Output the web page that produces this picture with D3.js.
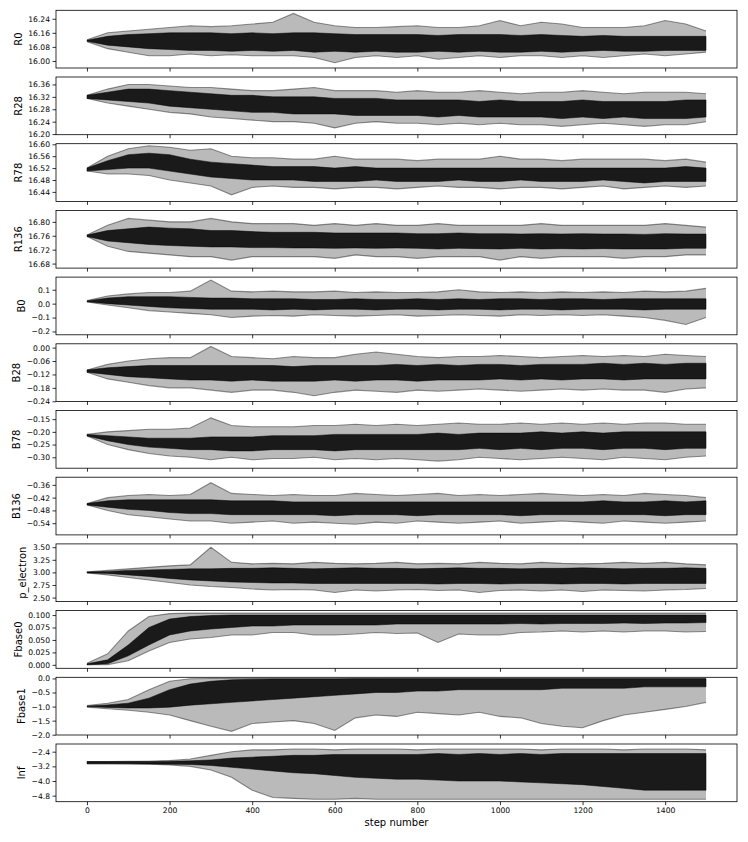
<!DOCTYPE html>
<html><head><meta charset="utf-8">
<script src="https://cdn.jsdelivr.net/npm/d3@7"></script>
<style>
body{margin:0;background:#fff}
svg{display:block}
text{font-family:"DejaVu Sans",sans-serif}
</style>
</head><body>
<svg id="chart" width="748" height="842"></svg>
<script>
// ---------- data ----------
const paramNames = ["R0","R28","R78","R136","B0","B28","B78","B136","p_electron","Fbase0","Fbase1","lnf"];
const steps = [0,50,100,150,200,250,300,350,400,450,500,550,600,650,700,750,800,850,900,950,1000,1050,1100,1150,1200,1250,1300,1350,1400,1450,1499];
const xTickValues = [0,200,400,600,800,1000,1200,1400];
const xLabel = "step number";

const yTickValues = [
  [16.00,16.08,16.16,16.24],
  [16.20,16.24,16.28,16.32,16.36],
  [16.44,16.48,16.52,16.56,16.60],
  [16.68,16.72,16.76,16.80],
  [-0.2,-0.1,0.0,0.1],
  [-0.24,-0.18,-0.12,-0.06,0.00],
  [-0.30,-0.25,-0.20,-0.15],
  [-0.54,-0.48,-0.42,-0.36],
  [2.50,2.75,3.00,3.25,3.50],
  [0.000,0.025,0.050,0.075,0.100],
  [-2.0,-1.5,-1.0,-0.5,0.0],
  [-4.8,-4.0,-3.2,-2.4]
];
const yTickLabels = [
  ["16.00","16.08","16.16","16.24"],
  ["16.20","16.24","16.28","16.32","16.36"],
  ["16.44","16.48","16.52","16.56","16.60"],
  ["16.68","16.72","16.76","16.80"],
  ["\u22120.2","\u22120.1","0.0","0.1"],
  ["\u22120.24","\u22120.18","\u22120.12","\u22120.06","0.00"],
  ["\u22120.30","\u22120.25","\u22120.20","\u22120.15"],
  ["\u22120.54","\u22120.48","\u22120.42","\u22120.36"],
  ["2.50","2.75","3.00","3.25","3.50"],
  ["0.000","0.025","0.050","0.075","0.100"],
  ["\u22122.0","\u22121.5","\u22121.0","\u22120.5","0.0"],
  ["\u22124.8","\u22124.0","\u22123.2","\u22122.4"]
];
const yDomains = [
  [15.96,16.288],[16.198,16.384],[16.408,16.602],[16.667,16.833],
  [-0.224,0.191],[-0.241,0.017],[-0.343,-0.116],[-0.595,-0.324],
  [2.42,3.566],[-0.007,0.109],[-2.01,0.04],[-5.13,-1.98]
];

// dense band (core) and full spread (outer) of the walkers, read at each step
const R0_coreHi = [16.118,16.14,16.15,16.155,16.16,16.16,16.16,16.155,16.16,16.155,16.16,16.16,16.155,16.15,16.15,16.15,16.15,16.145,16.15,16.15,16.15,16.145,16.15,16.145,16.14,16.145,16.14,16.14,16.14,16.14,16.14];
const R0_coreLo = [16.112,16.09,16.08,16.07,16.065,16.06,16.06,16.055,16.06,16.055,16.06,16.05,16.055,16.05,16.055,16.05,16.05,16.055,16.05,16.055,16.05,16.05,16.055,16.05,16.055,16.06,16.055,16.055,16.06,16.06,16.06];
const R0_outerHi = [16.12,16.16,16.17,16.18,16.19,16.2,16.195,16.2,16.21,16.22,16.27,16.22,16.2,16.19,16.19,16.195,16.2,16.19,16.19,16.2,16.23,16.2,16.22,16.21,16.19,16.19,16.19,16.2,16.23,16.21,16.17];
const R0_outerLo = [16.11,16.07,16.05,16.03,16.03,16.04,16.03,16.035,16.03,16.03,16.03,16.02,15.99,16.02,16.03,16.02,16.03,16.01,16.02,16.03,16.02,16.03,16.03,16.02,16.03,16.02,16.03,16.04,16.03,16.04,16.05];

const R28_coreHi = [16.325,16.335,16.345,16.345,16.34,16.335,16.33,16.325,16.325,16.32,16.32,16.32,16.315,16.315,16.315,16.31,16.31,16.31,16.31,16.305,16.31,16.305,16.305,16.305,16.31,16.305,16.305,16.305,16.305,16.31,16.31];
const R28_coreLo = [16.315,16.31,16.305,16.3,16.29,16.285,16.28,16.275,16.27,16.27,16.265,16.265,16.265,16.26,16.26,16.26,16.26,16.255,16.26,16.255,16.255,16.255,16.255,16.25,16.255,16.25,16.255,16.25,16.25,16.25,16.255];
const R28_outerHi = [16.325,16.345,16.36,16.36,16.355,16.35,16.35,16.345,16.34,16.34,16.345,16.35,16.34,16.34,16.34,16.335,16.34,16.335,16.335,16.34,16.335,16.33,16.335,16.335,16.34,16.335,16.33,16.335,16.335,16.335,16.33];
const R28_outerLo = [16.315,16.3,16.29,16.28,16.27,16.265,16.255,16.25,16.245,16.24,16.24,16.235,16.22,16.235,16.24,16.235,16.235,16.23,16.235,16.23,16.235,16.23,16.23,16.225,16.23,16.235,16.23,16.225,16.23,16.23,16.24];

const R78_coreHi = [16.52,16.545,16.565,16.57,16.565,16.55,16.54,16.535,16.53,16.525,16.525,16.525,16.52,16.525,16.52,16.52,16.52,16.52,16.52,16.52,16.52,16.52,16.52,16.52,16.52,16.52,16.52,16.52,16.52,16.525,16.52];
const R78_coreLo = [16.51,16.515,16.52,16.52,16.51,16.5,16.49,16.485,16.48,16.48,16.48,16.475,16.475,16.475,16.48,16.475,16.475,16.475,16.48,16.475,16.475,16.48,16.475,16.475,16.475,16.48,16.475,16.47,16.475,16.475,16.475];
const R78_outerHi = [16.52,16.56,16.585,16.595,16.59,16.58,16.585,16.56,16.555,16.555,16.55,16.55,16.56,16.55,16.55,16.55,16.545,16.55,16.55,16.55,16.56,16.55,16.55,16.545,16.55,16.55,16.55,16.55,16.545,16.55,16.54];
const R78_outerLo = [16.51,16.5,16.5,16.495,16.48,16.47,16.46,16.43,16.455,16.46,16.455,16.455,16.45,16.455,16.455,16.45,16.455,16.46,16.455,16.455,16.45,16.455,16.455,16.45,16.455,16.46,16.45,16.455,16.46,16.455,16.46];

const R136_coreHi = [16.762,16.775,16.78,16.785,16.782,16.78,16.775,16.775,16.772,16.77,16.77,16.77,16.768,16.768,16.768,16.768,16.766,16.766,16.768,16.766,16.766,16.765,16.766,16.765,16.766,16.765,16.765,16.764,16.766,16.765,16.765];
const R136_coreLo = [16.758,16.745,16.74,16.735,16.732,16.73,16.728,16.728,16.726,16.726,16.725,16.725,16.724,16.725,16.724,16.725,16.724,16.722,16.724,16.723,16.722,16.724,16.722,16.723,16.722,16.723,16.722,16.722,16.722,16.724,16.724];
const R136_outerHi = [16.762,16.79,16.81,16.805,16.8,16.8,16.81,16.8,16.795,16.795,16.795,16.79,16.795,16.79,16.795,16.79,16.79,16.795,16.79,16.79,16.79,16.79,16.795,16.79,16.79,16.79,16.79,16.79,16.795,16.79,16.785];
const R136_outerLo = [16.758,16.73,16.715,16.71,16.705,16.7,16.7,16.69,16.7,16.7,16.7,16.7,16.695,16.705,16.7,16.7,16.695,16.7,16.7,16.7,16.69,16.7,16.695,16.7,16.7,16.7,16.695,16.7,16.7,16.705,16.705];

const B0_coreHi = [0.02,0.04,0.05,0.05,0.05,0.045,0.04,0.04,0.035,0.035,0.035,0.03,0.03,0.035,0.03,0.03,0.035,0.03,0.035,0.03,0.035,0.035,0.03,0.035,0.035,0.03,0.035,0.035,0.035,0.035,0.035];
const B0_coreLo = [0.014,0.0,-0.01,-0.02,-0.03,-0.035,-0.04,-0.04,-0.04,-0.045,-0.04,-0.045,-0.04,-0.04,-0.045,-0.04,-0.04,-0.045,-0.04,-0.04,-0.045,-0.04,-0.04,-0.045,-0.04,-0.04,-0.04,-0.045,-0.04,-0.04,-0.04];
const B0_outerHi = [0.022,0.055,0.07,0.08,0.08,0.09,0.17,0.09,0.085,0.09,0.085,0.085,0.09,0.08,0.085,0.08,0.08,0.085,0.1,0.085,0.08,0.085,0.08,0.085,0.08,0.085,0.08,0.09,0.085,0.09,0.11];
const B0_outerLo = [0.012,-0.01,-0.03,-0.05,-0.06,-0.07,-0.08,-0.1,-0.09,-0.085,-0.09,-0.08,-0.085,-0.09,-0.085,-0.08,-0.09,-0.085,-0.08,-0.085,-0.09,-0.08,-0.085,-0.08,-0.085,-0.08,-0.09,-0.1,-0.12,-0.15,-0.1];

const B28_coreHi = [-0.1,-0.09,-0.085,-0.08,-0.08,-0.08,-0.08,-0.08,-0.08,-0.08,-0.085,-0.08,-0.08,-0.08,-0.08,-0.075,-0.08,-0.075,-0.08,-0.075,-0.075,-0.08,-0.075,-0.075,-0.075,-0.07,-0.075,-0.07,-0.075,-0.07,-0.07];
const B28_coreLo = [-0.11,-0.12,-0.13,-0.135,-0.14,-0.145,-0.145,-0.15,-0.145,-0.15,-0.15,-0.15,-0.145,-0.15,-0.145,-0.145,-0.15,-0.145,-0.145,-0.145,-0.14,-0.145,-0.14,-0.145,-0.14,-0.14,-0.145,-0.14,-0.14,-0.14,-0.14];
const B28_outerHi = [-0.1,-0.075,-0.06,-0.05,-0.045,-0.045,0.005,-0.04,-0.045,-0.05,-0.04,-0.045,-0.045,-0.03,-0.02,-0.03,-0.04,-0.045,-0.04,-0.04,-0.035,-0.04,-0.045,-0.04,-0.035,-0.04,-0.035,-0.04,-0.03,-0.035,-0.04];
const B28_outerLo = [-0.11,-0.14,-0.155,-0.17,-0.18,-0.18,-0.19,-0.2,-0.19,-0.19,-0.2,-0.215,-0.2,-0.19,-0.195,-0.2,-0.19,-0.195,-0.19,-0.185,-0.19,-0.195,-0.19,-0.185,-0.19,-0.185,-0.19,-0.19,-0.2,-0.185,-0.18];

const B78_coreHi = [-0.21,-0.215,-0.22,-0.225,-0.225,-0.225,-0.22,-0.22,-0.22,-0.215,-0.215,-0.215,-0.21,-0.21,-0.21,-0.21,-0.21,-0.205,-0.21,-0.205,-0.205,-0.205,-0.2,-0.205,-0.2,-0.205,-0.2,-0.2,-0.2,-0.2,-0.2];
const B78_coreLo = [-0.216,-0.235,-0.25,-0.26,-0.265,-0.27,-0.27,-0.275,-0.275,-0.27,-0.27,-0.27,-0.275,-0.27,-0.27,-0.27,-0.27,-0.27,-0.27,-0.265,-0.27,-0.265,-0.27,-0.265,-0.265,-0.27,-0.265,-0.265,-0.27,-0.265,-0.265];
const B78_outerHi = [-0.21,-0.2,-0.195,-0.19,-0.19,-0.185,-0.145,-0.175,-0.18,-0.18,-0.18,-0.175,-0.175,-0.17,-0.175,-0.17,-0.175,-0.17,-0.165,-0.17,-0.17,-0.165,-0.17,-0.165,-0.17,-0.165,-0.17,-0.165,-0.165,-0.17,-0.17];
const B78_outerLo = [-0.216,-0.25,-0.27,-0.285,-0.295,-0.3,-0.31,-0.3,-0.31,-0.305,-0.305,-0.3,-0.31,-0.305,-0.31,-0.305,-0.31,-0.315,-0.31,-0.3,-0.305,-0.31,-0.305,-0.3,-0.305,-0.31,-0.3,-0.305,-0.31,-0.3,-0.295];

const B136_coreHi = [-0.448,-0.435,-0.43,-0.43,-0.43,-0.43,-0.43,-0.435,-0.435,-0.435,-0.44,-0.44,-0.44,-0.44,-0.44,-0.44,-0.44,-0.44,-0.44,-0.44,-0.44,-0.44,-0.44,-0.44,-0.44,-0.435,-0.44,-0.44,-0.435,-0.44,-0.435];
const B136_coreLo = [-0.454,-0.465,-0.475,-0.48,-0.49,-0.495,-0.495,-0.5,-0.5,-0.5,-0.5,-0.5,-0.505,-0.5,-0.5,-0.5,-0.505,-0.5,-0.5,-0.5,-0.5,-0.505,-0.5,-0.5,-0.5,-0.5,-0.5,-0.5,-0.505,-0.5,-0.5];
const B136_outerHi = [-0.448,-0.42,-0.41,-0.405,-0.41,-0.405,-0.35,-0.4,-0.405,-0.41,-0.405,-0.41,-0.41,-0.4,-0.405,-0.41,-0.405,-0.4,-0.41,-0.405,-0.41,-0.405,-0.4,-0.405,-0.41,-0.405,-0.41,-0.4,-0.405,-0.41,-0.42];
const B136_outerLo = [-0.454,-0.48,-0.5,-0.51,-0.52,-0.53,-0.53,-0.54,-0.535,-0.53,-0.54,-0.535,-0.54,-0.545,-0.535,-0.54,-0.53,-0.535,-0.54,-0.535,-0.53,-0.54,-0.535,-0.53,-0.535,-0.54,-0.53,-0.535,-0.54,-0.535,-0.53];

const pe_coreHi = [3.01,3.02,3.04,3.05,3.06,3.07,3.07,3.08,3.08,3.09,3.08,3.07,3.08,3.09,3.08,3.08,3.07,3.08,3.09,3.08,3.08,3.07,3.08,3.08,3.09,3.08,3.07,3.08,3.08,3.09,3.08];
const pe_coreLo = [2.99,2.98,2.95,2.92,2.88,2.85,2.83,2.81,2.8,2.79,2.79,2.78,2.78,2.78,2.78,2.78,2.78,2.77,2.78,2.78,2.77,2.78,2.78,2.77,2.78,2.78,2.77,2.78,2.78,2.78,2.78];
const pe_outerHi = [3.01,3.04,3.07,3.1,3.13,3.15,3.5,3.2,3.17,3.18,3.17,3.2,3.18,3.17,3.18,3.2,3.17,3.18,3.17,3.2,3.18,3.17,3.2,3.18,3.17,3.18,3.2,3.18,3.2,3.17,3.15];
const pe_outerLo = [2.99,2.95,2.9,2.85,2.8,2.75,2.72,2.7,2.67,2.65,2.66,2.65,2.6,2.65,2.63,2.65,2.66,2.64,2.65,2.6,2.64,2.65,2.63,2.65,2.62,2.65,2.64,2.63,2.65,2.66,2.68];

const Fb0_coreHi = [0.002,0.01,0.04,0.075,0.092,0.097,0.099,0.1,0.1,0.1,0.1,0.1,0.1,0.1,0.1,0.1,0.1,0.1,0.1,0.1,0.1,0.1,0.1,0.1,0.1,0.1,0.1,0.1,0.1,0.1,0.1];
const Fb0_coreLo = [0.0,0.002,0.018,0.04,0.06,0.068,0.072,0.075,0.078,0.078,0.08,0.08,0.08,0.08,0.08,0.082,0.082,0.082,0.082,0.082,0.082,0.083,0.082,0.083,0.083,0.083,0.084,0.083,0.084,0.084,0.085];
const Fb0_outerHi = [0.003,0.022,0.068,0.097,0.103,0.104,0.104,0.104,0.104,0.104,0.104,0.104,0.104,0.104,0.104,0.104,0.104,0.104,0.104,0.104,0.104,0.104,0.104,0.104,0.104,0.104,0.104,0.104,0.104,0.104,0.104];
const Fb0_outerLo = [0.0,0.0,0.008,0.028,0.045,0.052,0.055,0.06,0.06,0.065,0.065,0.06,0.06,0.062,0.065,0.063,0.064,0.045,0.062,0.06,0.06,0.065,0.066,0.068,0.066,0.068,0.066,0.068,0.068,0.066,0.067];

const Fb1_coreHi = [-0.98,-0.94,-0.88,-0.7,-0.4,-0.2,-0.1,-0.05,-0.03,-0.02,-0.02,-0.02,-0.02,-0.01,-0.01,-0.01,-0.01,-0.01,-0.01,-0.01,-0.01,-0.01,-0.01,-0.01,-0.01,-0.01,-0.01,-0.01,-0.01,-0.01,-0.01];
const Fb1_coreLo = [-1.0,-1.03,-1.05,-1.05,-1.02,-0.95,-0.9,-0.85,-0.8,-0.75,-0.7,-0.65,-0.6,-0.55,-0.5,-0.5,-0.45,-0.45,-0.4,-0.4,-0.4,-0.4,-0.4,-0.35,-0.35,-0.35,-0.35,-0.3,-0.3,-0.3,-0.3];
const Fb1_outerHi = [-0.96,-0.88,-0.75,-0.4,-0.1,-0.01,0.0,0.0,0.0,0.0,0.0,0.0,0.0,0.0,0.0,0.0,0.0,0.0,0.0,0.0,0.0,0.0,0.0,0.0,0.0,0.0,0.0,0.0,0.0,0.0,0.0];
const Fb1_outerLo = [-1.02,-1.08,-1.13,-1.2,-1.3,-1.5,-1.7,-1.88,-1.6,-1.55,-1.5,-1.6,-1.85,-1.4,-1.3,-1.35,-1.2,-1.25,-1.3,-1.2,-1.35,-1.4,-1.6,-1.7,-1.75,-1.5,-1.3,-1.2,-1.1,-1.0,-0.85];

const lnf_coreHi = [-2.94,-2.94,-2.94,-2.93,-2.92,-2.9,-2.85,-2.75,-2.7,-2.65,-2.6,-2.6,-2.55,-2.55,-2.55,-2.55,-2.55,-2.5,-2.55,-2.5,-2.55,-2.5,-2.55,-2.5,-2.5,-2.5,-2.5,-2.5,-2.5,-2.5,-2.5];
const lnf_coreLo = [-3.06,-3.06,-3.06,-3.07,-3.08,-3.1,-3.15,-3.25,-3.35,-3.45,-3.55,-3.6,-3.7,-3.8,-3.85,-3.9,-3.9,-3.95,-4.0,-4.0,-4.0,-4.05,-4.1,-4.15,-4.2,-4.3,-4.4,-4.5,-4.5,-4.5,-4.5];
const lnf_outerHi = [-2.94,-2.94,-2.93,-2.92,-2.88,-2.8,-2.6,-2.4,-2.3,-2.3,-2.25,-2.25,-2.3,-2.25,-2.25,-2.25,-2.3,-2.25,-2.25,-2.25,-2.25,-2.25,-2.3,-2.25,-2.25,-2.25,-2.3,-2.25,-2.25,-2.25,-2.3];
const lnf_outerLo = [-3.06,-3.06,-3.07,-3.08,-3.12,-3.2,-3.4,-3.8,-4.5,-4.9,-4.95,-5.0,-5.0,-4.95,-5.0,-5.0,-5.0,-5.0,-5.0,-5.0,-5.0,-5.0,-5.0,-5.0,-5.0,-5.0,-5.0,-5.0,-5.0,-5.0,-5.0];

const coreHiAll  = [R0_coreHi,R28_coreHi,R78_coreHi,R136_coreHi,B0_coreHi,B28_coreHi,B78_coreHi,B136_coreHi,pe_coreHi,Fb0_coreHi,Fb1_coreHi,lnf_coreHi];
const coreLoAll  = [R0_coreLo,R28_coreLo,R78_coreLo,R136_coreLo,B0_coreLo,B28_coreLo,B78_coreLo,B136_coreLo,pe_coreLo,Fb0_coreLo,Fb1_coreLo,lnf_coreLo];
const outerHiAll = [R0_outerHi,R28_outerHi,R78_outerHi,R136_outerHi,B0_outerHi,B28_outerHi,B78_outerHi,B136_outerHi,pe_outerHi,Fb0_outerHi,Fb1_outerHi,lnf_outerHi];
const outerLoAll = [R0_outerLo,R28_outerLo,R78_outerLo,R136_outerLo,B0_outerLo,B28_outerLo,B78_outerLo,B136_outerLo,pe_outerLo,Fb0_outerLo,Fb1_outerLo,lnf_outerLo];

// ---------- layout ----------
const left = 56, right = 737;
const top0 = 10.3, period = 66.7, panelH = 57.7;
const tickFont = 7.6, labelFont = 10;

const svg = d3.select("#chart");
const x = d3.scaleLinear().domain([-75, 1574]).range([left, right]);

paramNames.forEach((name, i) => {
  const top = top0 + i * period;
  const bottom = top + panelH;
  const y = d3.scaleLinear().domain(yDomains[i]).range([bottom, top]);
  const g = svg.append("g");

  const clipId = "clip" + i;
  svg.append("clipPath").attr("id", clipId)
    .append("rect").attr("x", left).attr("y", top).attr("width", right - left).attr("height", panelH);

  const rows = steps.map((s, k) => ({
    s, cHi: coreHiAll[i][k], cLo: coreLoAll[i][k], oHi: outerHiAll[i][k], oLo: outerLoAll[i][k]
  }));

  const plot = g.append("g").attr("clip-path", `url(#${clipId})`);

  plot.append("path").datum(rows)
    .attr("d", d3.area().x(d => x(d.s)).y0(d => y(d.oLo)).y1(d => y(d.oHi)))
    .attr("fill", "#000").attr("fill-opacity", 0.27);

  ["oHi","oLo"].forEach(key => {
    plot.append("path").datum(rows)
      .attr("d", d3.line().x(d => x(d.s)).y(d => y(d[key])))
      .attr("fill", "none").attr("stroke", "#000").attr("stroke-opacity", 0.42).attr("stroke-width", 1.1);
  });

  plot.append("path").datum(rows)
    .attr("d", d3.area().x(d => x(d.s)).y0(d => y(d.cLo)).y1(d => y(d.cHi)))
    .attr("fill", "#000").attr("fill-opacity", 0.86)
    .attr("stroke", "#000").attr("stroke-opacity", 0.5).attr("stroke-width", 1);

  // frame
  g.append("rect").attr("x", left).attr("y", top).attr("width", right - left).attr("height", panelH)
    .attr("fill", "none").attr("stroke", "#000").attr("stroke-width", 0.8);

  // y axis
  const yAx = g.append("g").attr("transform", `translate(${left},0)`)
    .call(d3.axisLeft(y).tickValues(yTickValues[i]).tickFormat((d, k) => yTickLabels[i][k]).tickSize(3.5).tickPadding(2.5));
  yAx.select(".domain").remove();
  yAx.selectAll("line").attr("stroke", "#000").attr("stroke-width", 0.8);
  yAx.selectAll("text").attr("font-size", tickFont).attr("fill", "#000").style("font-family", "DejaVu Sans");

  // x axis
  const xAx = g.append("g").attr("transform", `translate(0,${bottom})`)
    .call(d3.axisBottom(x).tickValues(xTickValues).tickFormat(i === paramNames.length - 1 ? d3.format("d") : "").tickSize(3.5).tickPadding(2.8));
  xAx.select(".domain").remove();
  xAx.selectAll("line").attr("stroke", "#000").attr("stroke-width", 0.8);
  xAx.selectAll("text").attr("font-size", tickFont).attr("fill", "#000").style("font-family", "DejaVu Sans");

  // y label, placed left of the widest tick label
  let minX = left;
  yAx.selectAll("text").each(function() {
    const b = this.getBBox();
    minX = Math.min(minX, left + b.x);
  });
  g.append("text").attr("transform", `translate(${minX - 6.6},${top + panelH / 2}) rotate(-90)`)
    .attr("text-anchor", "middle").attr("font-size", labelFont).attr("fill", "#000").text(name);
});

svg.append("text").attr("x", (left + right) / 2).attr("y", 826)
  .attr("text-anchor", "middle").attr("font-size", labelFont).attr("fill", "#000").text(xLabel);
</script>
</body></html>
